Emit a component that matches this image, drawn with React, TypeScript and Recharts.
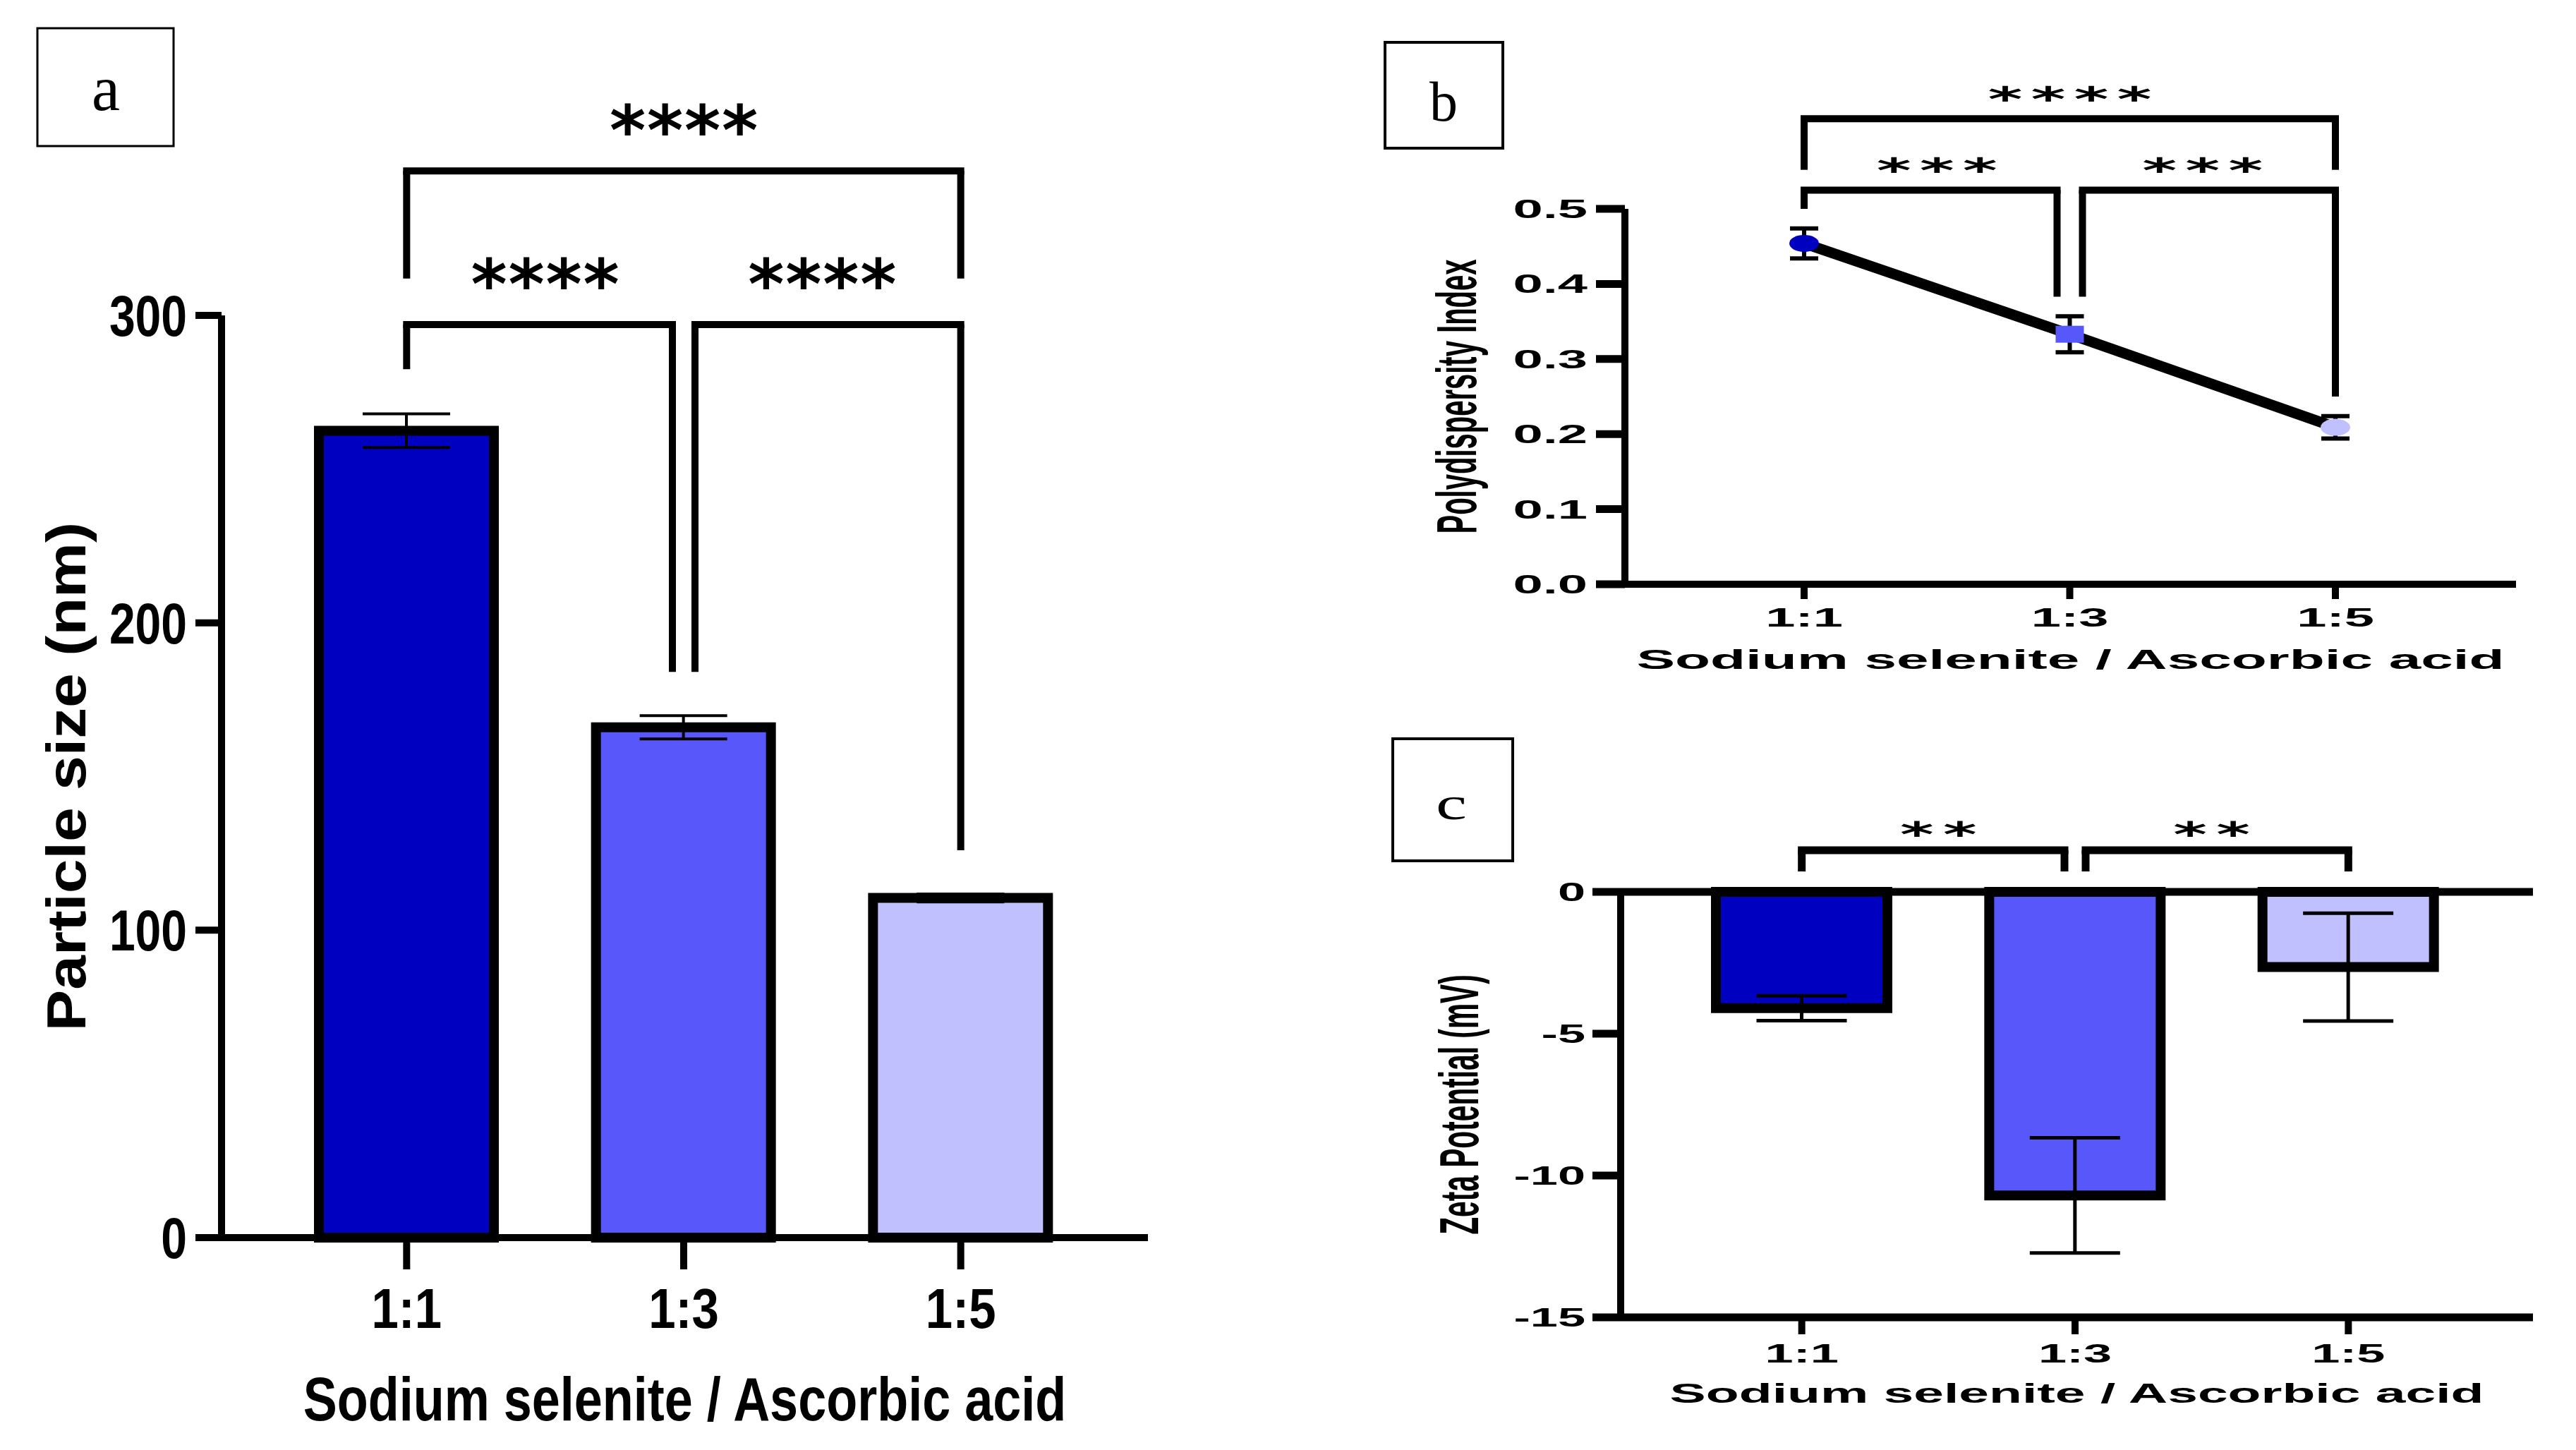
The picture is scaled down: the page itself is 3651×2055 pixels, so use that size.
import React from 'react';
import { BarChart, Bar, LineChart, Line, XAxis, YAxis, ErrorBar, Cell, ReferenceLine } from 'recharts';

// ---------- data ----------
const categories = ['1:1', '1:3', '1:5'];
const groupColors = ['#0000C0', '#5858FA', '#C0C0FF'];

const particleSize = [262.5, 166, 110.5];
const particleSizeSd = [5.5, 3.8, 1.3];

const pdiValues = [0.454, 0.333, 0.209];
const pdiSd = [0.02, 0.024, 0.015];

const zetaValues = [-4.1, -10.7, -2.65];
const zetaSd = [0.44, 2.03, 1.9];

const sizeTicks = [0, 100, 200, 300];
const pdiTicks = [0, 0.1, 0.2, 0.3, 0.4, 0.5];
const zetaTicks = [-15, -10, -5, 0];

const xTitle = 'Sodium selenite / Ascorbic acid';
const sizeTitle = 'Particle size (nm)';
const pdiTitle = 'Polydispersity Index';
const zetaTitle = 'Zeta Potential (mV)';
const panelLetters = ['a', 'b', 'c'];

// significance brackets (in data units of each panel)
const sizeBrackets = [
  { from: '1:1', to: '1:5', level: 347, fromEnd: 312, toEnd: 312, stars: '****' },
  { from: '1:1', to: '1:3', level: 297, fromEnd: 282.5, toEnd: 184, stars: '****' },
  { from: '1:3', to: '1:5', level: 297, fromEnd: 184, toEnd: 126, stars: '****' },
];
const pdiBrackets = [
  { from: '1:1', to: '1:5', level: 0.62, fromEnd: 0.552, toEnd: 0.552, stars: '****' },
  { from: '1:1', to: '1:3', level: 0.525, fromEnd: 0.5, toEnd: 0.383, stars: '***' },
  { from: '1:3', to: '1:5', level: 0.525, fromEnd: 0.383, toEnd: 0.25, stars: '***' },
];
const zetaBrackets = [
  { from: '1:1', to: '1:3', level: 1.47, fromEnd: 0.72, toEnd: 0.72, stars: '**' },
  { from: '1:3', to: '1:5', level: 1.47, fromEnd: 0.72, toEnd: 0.72, stars: '**' },
];

const sizeRows = categories.map((c, i) => ({ cat: c, size: particleSize[i], sd: particleSizeSd[i] }));
const pdiRows = categories.map((c, i) => ({ cat: c, pdi: pdiValues[i], sd: pdiSd[i] }));
const zetaRows = categories.map((c, i) => ({ cat: c, zeta: zetaValues[i], sd: zetaSd[i] }));

// ---------- styling helpers ----------
const FONT = "'Liberation Sans', Arial, Helvetica, sans-serif";
const STAR_FONT = "'DejaVu Sans', sans-serif";
const SERIF = "'Liberation Serif', 'Times New Roman', serif";

type TickOpts = { size: number; sx: number; sy: number; dy: number; anchor: 'start' | 'middle' | 'end'; fmt?: (v: any) => string };
const makeTick = (o: TickOpts) => (props: any) => {
  const { x, y, payload } = props;
  const txt = o.fmt ? o.fmt(payload.value) : String(payload.value);
  return (
    <text
      transform={`translate(${x},${y + o.dy}) scale(${o.sx},${o.sy})`}
      textAnchor={o.anchor}
      fontFamily={FONT}
      fontWeight={700}
      fontSize={o.size}
      fill="#000"
    >
      {txt}
    </text>
  );
};

const xTitleLabel = (o: { text: string; size: number; sx: number; sy: number; dy: number }) => (props: any) => {
  const vb = props.viewBox || { x: 0, y: 0, width: 0, height: 0 };
  const cx = vb.x + vb.width / 2;
  return (
    <text
      transform={`translate(${cx},${vb.y + o.dy}) scale(${o.sx},${o.sy})`}
      textAnchor="middle"
      fontFamily={FONT}
      fontWeight={700}
      fontSize={o.size}
      fill="#000"
    >
      {o.text}
    </text>
  );
};

const yTitleLabel = (o: { text: string; size: number; sx: number; sl: number; inset: number; dy: number }) => (props: any) => {
  const vb = props.viewBox || { x: 0, y: 0, width: 0, height: 0 };
  const bx = vb.x + vb.width - o.inset;
  const cy = vb.y + vb.height / 2 + o.dy;
  return (
    <text
      transform={`translate(${bx},${cy}) scale(${o.sx},1) rotate(-90) scale(${o.sl},1)`}
      textAnchor="middle"
      fontFamily={FONT}
      fontWeight={700}
      fontSize={o.size}
      fill="#000"
    >
      {o.text}
    </text>
  );
};

type BracketStyle = { width: number; gap: number; starSize: number; starSx: number; pitch: number; lift: number };

const starLabel = (stars: string, st: BracketStyle) => (props: any) => {
  const vb = props.viewBox || { x: 0, y: 0, width: 0, height: 0 };
  const cx = vb.x + (vb.width || 0) / 2;
  const y = vb.y - st.lift;
  const chars = stars.split('');
  const n = chars.length;
  return (
    <g>
      {chars.map((ch, i) => (
        <text
          key={i}
          transform={`translate(${cx + (i - (n - 1) / 2) * st.pitch},${y}) scale(${st.starSx},1)`}
          textAnchor="middle"
          fontFamily={STAR_FONT}
          fontWeight={700}
          fontSize={st.starSize}
          fill="#000"
        >
          {ch}
        </text>
      ))}
    </g>
  );
};

function renderBrackets(list: any[], st: BracketStyle, prefix: string) {
  const w = st.width;
  return list.flatMap((b, i) => {
    const dxFrom = b.from === '1:3' ? st.gap : 0;
    const dxTo = b.to === '1:3' ? -st.gap : 0;
    const common: any = { ifOverflow: 'visible', stroke: '#000', strokeWidth: w, position: 'middle' };
    return [
      <ReferenceLine
        key={`${prefix}h${i}`}
        {...common}
        segment={[{ x: b.from, y: b.level }, { x: b.to, y: b.level }]}
        shape={(p: any) => (
          <line x1={p.x1 + dxFrom - w / 2} y1={p.y1} x2={p.x2 + dxTo + w / 2} y2={p.y2} stroke="#000" strokeWidth={w} />
        )}
        label={starLabel(b.stars, st)}
      />,
      <ReferenceLine
        key={`${prefix}l${i}`}
        {...common}
        segment={[{ x: b.from, y: b.level }, { x: b.from, y: b.fromEnd }]}
        shape={(p: any) => (
          <line x1={p.x1 + dxFrom} y1={p.y1} x2={p.x2 + dxFrom} y2={p.y2} stroke="#000" strokeWidth={w} />
        )}
      />,
      <ReferenceLine
        key={`${prefix}r${i}`}
        {...common}
        segment={[{ x: b.to, y: b.level }, { x: b.to, y: b.toEnd }]}
        shape={(p: any) => (
          <line x1={p.x1 + dxTo} y1={p.y1} x2={p.x2 + dxTo} y2={p.y2} stroke="#000" strokeWidth={w} />
        )}
      />,
    ];
  });
}

const PdiDot = (props: any) => {
  const { cx, cy, index } = props;
  const fill = groupColors[index % groupColors.length];
  if (index === 1) {
    return <rect key={`d${index}`} x={cx - 20} y={cy - 12} width={40} height={24} fill={fill} />;
  }
  return <ellipse key={`d${index}`} cx={cx} cy={cy} rx={21} ry={12} fill={fill} />;
};

// ---------- panels ----------
function PanelA() {
  const axisStyle = { stroke: '#000', strokeWidth: 10 };
  return (
    <div style={{ position: 'absolute', left: 0, top: 0, width: 1700, height: 2055 }}>
      <BarChart width={1700} height={2055} data={sizeRows} margin={{ top: 447, right: 73, bottom: 51, left: 74 }}>
        <XAxis
          dataKey="cat"
          type="category"
          height={250}
          padding={{ left: 66, right: 69 }}
          axisLine={axisStyle}
          tickLine={axisStyle}
          tickSize={45}
          tickMargin={0}
          interval={0}
          tick={makeTick({ size: 69, sx: 1, sy: 1.15, dy: 83, anchor: 'middle' })}
          label={xTitleLabel({ text: xTitle, size: 72, sx: 1, sy: 1.22, dy: 259 })}
        />
        <YAxis
          type="number"
          domain={[0, 300]}
          ticks={sizeTicks}
          width={240}
          axisLine={axisStyle}
          tickLine={axisStyle}
          tickSize={37}
          tickMargin={12}
          interval={0}
          tick={makeTick({ size: 66, sx: 1, sy: 1.23, dy: 29, anchor: 'end' })}
          label={yTitleLabel({ text: sizeTitle, size: 78, sx: 1, sl: 1.125, inset: 193, dy: 0 })}
        />
        <Bar dataKey="size" barSize={248} stroke="#000" strokeWidth={14} isAnimationActive={false}>
          {sizeRows.map((r, i) => (
            <Cell key={r.cat} fill={groupColors[i]} />
          ))}
          <ErrorBar dataKey="sd" width={62} strokeWidth={4} stroke="#000" direction="y" />
        </Bar>
        {renderBrackets(sizeBrackets, { width: 10, gap: 16, starSize: 98, starSx: 1, pitch: 53, lift: 23 }, 'a')}
      </BarChart>
    </div>
  );
}

function PanelB() {
  const axisStyle = { stroke: '#000', strokeWidth: 10 };
  return (
    <div style={{ position: 'absolute', left: 1750, top: 0, width: 1901, height: 1000 }}>
      <LineChart width={1901} height={1000} data={pdiRows} margin={{ top: 296, right: 85, bottom: 22, left: 253 }}>
        <XAxis
          dataKey="cat"
          type="category"
          height={150}
          padding={{ left: 254, right: 256 }}
          axisLine={axisStyle}
          tickLine={axisStyle}
          tickSize={21}
          tickMargin={0}
          interval={0}
          tick={makeTick({ size: 37, sx: 2.05, sy: 1, dy: 39, anchor: 'middle' })}
          label={xTitleLabel({ text: xTitle, size: 39, sx: 2.1, sy: 1, dy: 120 })}
        />
        <YAxis
          type="number"
          domain={[0, 0.5]}
          ticks={pdiTicks}
          width={300}
          axisLine={axisStyle}
          tickLine={{ stroke: '#000', strokeWidth: 11 }}
          tickSize={41}
          tickMargin={12}
          interval={0}
          tick={makeTick({ size: 37, sx: 2.05, sy: 1, dy: 13, anchor: 'end', fmt: (v) => Number(v).toFixed(1) })}
          label={yTitleLabel({ text: pdiTitle, size: 40, sx: 2.0, sl: 1, inset: 211, dy: 0 })}
        />
        <Line
          dataKey="pdi"
          stroke="#000"
          strokeWidth={15}
          dot={PdiDot}
          activeDot={false}
          isAnimationActive={false}
        >
          <ErrorBar dataKey="sd" width={20} strokeWidth={6} stroke="#000" direction="y" />
        </Line>
        {renderBrackets(pdiBrackets, { width: 10, gap: 18, starSize: 48, starSx: 1.95, pitch: 61, lift: 11 }, 'b')}
      </LineChart>
    </div>
  );
}

function PanelC() {
  const axisStyle = { stroke: '#000', strokeWidth: 11 };
  return (
    <div style={{ position: 'absolute', left: 1750, top: 1000, width: 1901, height: 1055 }}>
      <BarChart width={1901} height={1055} data={zetaRows} margin={{ top: 264, right: 61, bottom: 38, left: 247 }}>
        <XAxis
          dataKey="cat"
          type="category"
          height={150}
          padding={{ left: 63, right: 68 }}
          axisLine={axisStyle}
          tickLine={{ stroke: '#000', strokeWidth: 10 }}
          tickSize={24}
          tickMargin={0}
          interval={0}
          tick={makeTick({ size: 37, sx: 1.95, sy: 1, dy: 40, anchor: 'middle' })}
          label={xTitleLabel({ text: xTitle, size: 39, sx: 1.97, sy: 1, dy: 121 })}
        />
        <YAxis
          type="number"
          domain={[-15, 0]}
          ticks={zetaTicks}
          width={300}
          axisLine={{ stroke: '#000', strokeWidth: 10 }}
          tickLine={axisStyle}
          tickSize={40}
          tickMargin={10}
          interval={0}
          tick={makeTick({ size: 37, sx: 1.9, sy: 1, dy: 13, anchor: 'end' })}
          label={yTitleLabel({ text: zetaTitle, size: 40.7, sx: 1.89, sl: 1, inset: 202, dy: 0 })}
        />
        <Bar dataKey="zeta" barSize={243} stroke="#000" strokeWidth={14} isAnimationActive={false}>
          {zetaRows.map((r, i) => (
            <Cell key={r.cat} fill={groupColors[i]} />
          ))}
          <ErrorBar dataKey="sd" width={64} strokeWidth={5} stroke="#000" direction="y" />
        </Bar>
        <ReferenceLine y={0} stroke="#000" strokeWidth={11} ifOverflow="visible" />
        {renderBrackets(zetaBrackets, { width: 11, gap: 15, starSize: 48, starSx: 1.9, pitch: 61, lift: 6 }, 'c')}
      </BarChart>
    </div>
  );
}

function PanelBoxes() {
  const boxes = [
    { x: 53, y: 40, w: 193, h: 167, bw: 3, tx: 150, ty: 156, size: 90, sx: 1 },
    { x: 1963, y: 60, w: 167, h: 150, bw: 4, tx: 2046, ty: 171, size: 80, sx: 1 },
    { x: 1974, y: 1047, w: 170, h: 173, bw: 4, tx: 2057, ty: 1161, size: 66, sx: 1.5 },
  ];
  return (
    <svg width={3651} height={2055} style={{ position: 'absolute', left: 0, top: 0 }}>
      {boxes.map((b, i) => (
        <g key={i}>
          <rect x={b.x} y={b.y} width={b.w} height={b.h} fill="#fff" stroke="#000" strokeWidth={b.bw} />
          <text
            transform={`translate(${b.tx},${b.ty}) scale(${b.sx},1)`}
            textAnchor="middle"
            fontFamily={SERIF}
            fontSize={b.size}
            fill="#000"
          >
            {panelLetters[i]}
          </text>
        </g>
      ))}
    </svg>
  );
}

export default function App() {
  return (
    <div style={{ position: 'absolute', left: 0, top: 0, width: 3651, height: 2055, background: '#fff', overflow: 'hidden' }}>
      <PanelBoxes />
      <PanelA />
      <PanelB />
      <PanelC />
    </div>
  );
}
